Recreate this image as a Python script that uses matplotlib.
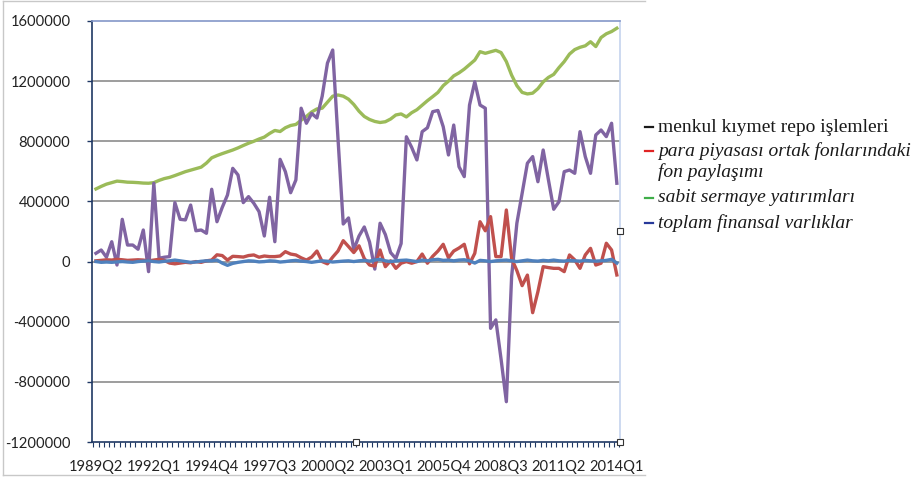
import matplotlib
matplotlib.use("Agg")
import matplotlib.pyplot as plt
from matplotlib.lines import Line2D
from matplotlib.patches import Rectangle
import numpy as np

# ── categories: quarters 1989Q2 .. 2014Q1 ─────────────────────────────────────
quarters = []
for year in range(1989, 2015):
    for q in range(1, 5):
        if (year == 1989 and q < 2) or (year == 2014 and q > 1):
            continue
        quarters.append(f"{year}Q{q}")

tick_every = 11

# ── series (thousands) ───────────────────────────────────────────────────────
sabit = [483, 500, 515, 525, 535, 532, 528, 527, 525, 522,
         521, 525, 540, 552, 560, 572, 585, 598, 608, 618,
         628, 655, 690, 705, 718, 730, 742, 756, 772, 787,
         800, 815, 828, 852, 872, 865, 890, 905, 912, 940,
         965, 995, 1015, 1020, 1060, 1100, 1108, 1100, 1080, 1045,
         1000, 965, 945, 932, 925, 930, 948, 975, 982, 962,
         990, 1010, 1040, 1070, 1097, 1125, 1170, 1200, 1235, 1255,
         1280, 1310, 1340, 1396, 1385, 1395, 1405, 1390, 1330, 1240,
         1170, 1125, 1115, 1120, 1150, 1195, 1225, 1245, 1290, 1330,
         1380, 1410, 1425, 1435, 1462, 1430, 1490, 1515, 1530, 1552]

toplam = [55, 77, 29, 132, -23, 281, 110, 110, 82, 210,
          -67, 521, 22, 29, 33, 392, 281, 277, 376, 205,
          210, 188, 481, 265, 360, 443, 620, 576, 392, 432,
          388, 332, 170, 428, 132, 680, 598, 458, 543, 1020,
          920, 985, 955, 1100, 1320, 1407, 820, 250, 290, 80,
          170, 230, 130, -50, 255, 180, 60, 20, 120, 830,
          760, 676, 864, 890, 997, 1005, 897, 709, 908, 631,
          565, 1041, 1196, 1041, 1020, -444, -388, -650, -932, -100,
          255, 454, 654, 698, 531, 742, 543, 348, 398, 598,
          609, 587, 864, 698, 587, 842, 875, 831, 920, 521]

para = [5, 8, 12, 10, 15, 12, 8, 10, 12, 10,
        5, 10, 15, 8, -10, -15, -10, -5, -8, 0,
        -5, 5, 10, 45, 40, 10, 35, 33, 30, 40,
        44, 29, 37, 33, 33, 37, 66, 50, 44, 25,
        10, 30, 70, 0, -15, 30, 70, 139, 100, 60,
        105, 20, -23, -30, 77, -34, 5, -45, -11, 0,
        -11, 0, 50, -11, 35, 70, 115, 25, 70, 90,
        115, -15, 55, 265, 205, 299, 33, 33, 343, 20,
        -60, -160, -90, -340, -200, -34, -40, -45, -45, -67,
        44, 11, -45, 44, 88, -23, -11, 122, 77, -89]

repo = [0, -5, -3, -5, -2, 0, -3, -5, 0, 3,
        5, 0, -3, 2, 5, 10, 5, 0, -5, -3,
        2, 5, 5, 10, -10, -25, -12, -5, 0, 5,
        3, -2, 0, 5, 3, -3, 0, 5, 8, 3,
        0, -5, 0, 5, 2, -3, 0, 3, 5, 0,
        5, 8, 3, 10, 15, 5, 0, 5, 8, 10,
        5, 0, 10, 5, 12, 15, 8, 10, 5, 10,
        12, 5, -10, 8, 5, 0, 5, 8, 10, 5,
        0, 5, 10, 5, 3, 8, 5, 10, 5, 3,
        8, 5, 3, 8, 5, 3, 5, 8, 15, -10]

legend_labels = ["menkul kıymet repo işlemleri",
                 "para piyasası ortak fonlarındaki\nfon paylaşımı",
                 "sabit sermaye yatırımları",
                 "toplam finansal varlıklar"]
legend_colors = ["#1a1a1a", "#e02424", "#3fae49", "#27399a"]
legend_styles = ["normal", "italic", "italic", "italic"]

# ── figure ───────────────────────────────────────────────────────────────────
W, H = 923, 478
fig = plt.figure(figsize=(W / 100, H / 100), dpi=100)
ax = fig.add_axes([92 / W, (H - 442) / H, 528 / W, 421 / H])

x = np.arange(len(quarters))
k = 1000
lw = 2.4
ax.plot(x, np.array(sabit) * k, color="#9bbb59", lw=lw, solid_joinstyle="round", zorder=3)
ax.plot(x, np.array(toplam) * k, color="#8064a2", lw=lw, solid_joinstyle="round", zorder=4)
ax.plot(x, np.array(para) * k, color="#c0504d", lw=lw, solid_joinstyle="round", zorder=5)
ax.plot(x, np.array(repo) * k, color="#4f81bd", lw=lw, solid_joinstyle="round", zorder=6)

ax.set_xlim(-0.75, len(quarters) - 0.4)
ax.set_ylim(-1200000, 1600000)

yt = np.arange(-1200000, 1600001, 400000)
ax.set_yticks(yt)
ax.set_yticklabels([str(v) for v in yt])
for v in yt[1:-1]:
    ax.axhline(v, color="#8c8c8c", lw=1.2, zorder=1)

ax.set_xticks(x[::tick_every])
ax.set_xticklabels(quarters[::tick_every])
ax.set_xticks(np.arange(-0.5, len(quarters)), minor=True)

navy = "#1f3864"
for lab in ax.get_xticklabels() + ax.get_yticklabels():
    lab.set_fontfamily("Lato")
    lab.set_fontsize(10.6)
    lab.set_color("#222222")
ax.tick_params(axis="y", direction="out", length=3.5, width=1, color=navy, pad=12)
ax.tick_params(axis="x", which="major", length=0, pad=13)
ax.tick_params(axis="x", which="minor", direction="out", length=3.5, width=0.8, color=navy)

for side in ("left", "bottom"):
    ax.spines[side].set_color(navy)
    ax.spines[side].set_linewidth(1.2)
ax.spines["top"].set_color("#8497c8")
ax.spines["top"].set_linewidth(1.2)
ax.spines["right"].set_color("#c5d3ee")
ax.spines["right"].set_linewidth(1.2)

# ── outer chart frame ────────────────────────────────────────────────────────
def px(xp, yp):
    return xp / W, (H - yp) / H

frame_col = "#c8c8c8"
for (x0, y0), (x1, y1) in [((3, 1), (645, 1)), ((3, 1), (3, 475)), ((3, 475), (645, 475))]:
    a, b = px(x0, y0)
    c, d = px(x1, y1)
    fig.add_artist(Line2D([a, c], [b, d], color=frame_col, lw=1.0))

# selection handles
for hx, hy in [(620, 231), (356, 442), (620, 442)]:
    a, b = px(hx - 3, hy + 3)
    fig.add_artist(Rectangle((a, b), 6 / W, 6 / H, facecolor="white",
                             edgecolor="#333333", lw=0.8, zorder=10))

# ── legend (free text beside the plot) ───────────────────────────────────────
leg_y = [127, 151, 198, 223]
for label, col, style, yp in zip(legend_labels, legend_colors, legend_styles, leg_y):
    a, b = px(645, yp)
    c, _ = px(653, yp)
    fig.add_artist(Line2D([a, c], [b, b], color=col, lw=1.6))
    for j, ln in enumerate(label.split("\n")):
        a, b = px(658, yp + 21 * j)
        fig.text(a, b, ln, color="#1a1a1a", fontsize=14, family="Liberation Serif",
                 style=style, va="center", ha="left")

fig.savefig("out.png", dpi=100)
